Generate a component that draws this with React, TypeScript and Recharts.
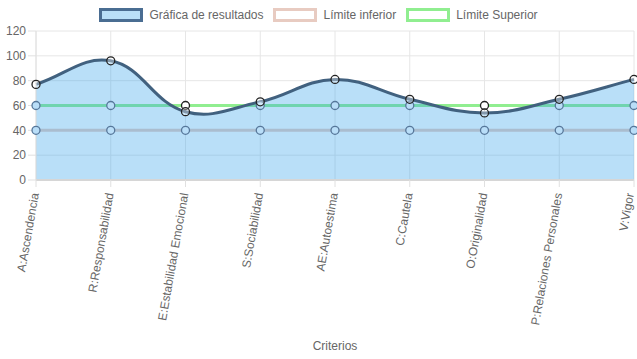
import { ComposedChart, Area, XAxis, YAxis, CartesianGrid } from 'recharts'

const criterios = [
  'A:Ascendencia',
  'R:Responsabilidad',
  'E:Estabilidad Emocional',
  'S:Sociabilidad',
  'AE:Autoestima',
  'C:Cautela',
  'O:Originalidad',
  'P:Relaciones Personales',
  'V:Vigor',
]
const resultados = [77, 96, 55, 63, 81, 65, 54, 65, 81]
const limiteInferior = [40, 40, 40, 40, 40, 40, 40, 40, 40]
const limiteSuperior = [60, 60, 60, 60, 60, 60, 60, 60, 60]
const yTicks = [0, 20, 40, 60, 80, 100, 120]

const legendItems = [
  { name: 'Gráfica de resultados', fill: 'rgba(54,162,235,0.35)', border: '#4a6d92' },
  { name: 'Límite inferior', fill: '#fff', border: '#e8cbc1' },
  { name: 'Límite Superior', fill: '#fff', border: '#90ee90' },
]

const data = criterios.map((c, i) => ({
  criterio: c,
  resultado: resultados[i],
  inferior: limiteInferior[i],
  superior: limiteSuperior[i],
}))

const FONT = "'Liberation Sans', Arial, Helvetica, sans-serif"

// chart.js style spline (tension 0.4)
function chartJsCurve(context: any) {
  let pts: number[][] = []
  let line = NaN
  const t = 0.4
  function draw() {
    const n = pts.length
    if (!n) return
    const cps = pts.map((p, i) => {
      const prev = pts[i - 1] || p
      const next = pts[i + 1] || p
      const d01 = Math.hypot(p[0] - prev[0], p[1] - prev[1])
      const d12 = Math.hypot(next[0] - p[0], next[1] - p[1])
      let s01 = d01 / (d01 + d12)
      let s12 = d12 / (d01 + d12)
      if (isNaN(s01)) s01 = 0
      if (isNaN(s12)) s12 = 0
      const fa = t * s01
      const fb = t * s12
      return {
        prev: [p[0] - fa * (next[0] - prev[0]), p[1] - fa * (next[1] - prev[1])],
        next: [p[0] + fb * (next[0] - prev[0]), p[1] + fb * (next[1] - prev[1])],
      }
    })
    if (line) context.lineTo(pts[0][0], pts[0][1])
    else context.moveTo(pts[0][0], pts[0][1])
    for (let i = 1; i < n; i++) {
      const a = cps[i - 1].next
      const b = cps[i].prev
      context.bezierCurveTo(a[0], a[1], b[0], b[1], pts[i][0], pts[i][1])
    }
  }
  return {
    areaStart() { line = 0 },
    areaEnd() { line = NaN },
    lineStart() { pts = [] },
    lineEnd() {
      draw()
      if (line || (line !== 0 && pts.length === 1)) context.closePath()
      line = 1 - line
    },
    point(x: number, y: number) { pts.push([+x, +y]) },
  }
}

function RotatedTick({ x, y, payload, index }: any) {
  const dx = index === criterios.length - 1 ? -4 : -1
  return (
    <g transform={`translate(${x + dx},${y + 4})`}>
      <text
        transform="rotate(-80)"
        textAnchor="end"
        dominantBaseline="central"
        fontSize={12}
        fill="#666"
        fontFamily={FONT}
      >
        {payload.value}
      </text>
    </g>
  )
}

// limit points sit under the translucent result fill when below the result value
function LimitDot({ cx, cy, value, payload }: any) {
  const v = Array.isArray(value) ? value[1] : value
  const under = payload.resultado > v + 1
  return (
    <circle
      cx={cx}
      cy={cy}
      r={4}
      fill={under ? '#b9def8' : '#fff'}
      stroke={under ? '#56779a' : '#222'}
      strokeWidth={1.3}
    />
  )
}

const dot = { r: 4, fill: '#fff', stroke: '#222', strokeWidth: 1.3 }

export default function App() {
  return (
    <div style={{ position: 'absolute', left: 0, top: 0, width: 637, height: 359, background: '#fff', fontFamily: FONT }}>
      <div style={{ position: 'absolute', top: 8, left: 0, width: 637, display: 'flex', justifyContent: 'center', fontSize: 12, color: '#666' }}>
        {legendItems.map((l) => (
          <div key={l.name} style={{ display: 'flex', alignItems: 'center', margin: '0 5px' }}>
            <span style={{ display: 'inline-block', width: 38, height: 8, background: l.fill, border: `3px solid ${l.border}`, marginRight: 6 }} />
            <span>{l.name}</span>
          </div>
        ))}
      </div>
      <ComposedChart width={637} height={359} data={data} margin={{ top: 31, right: 3, bottom: 0, left: 0 }}>
        <CartesianGrid stroke="#e6e6e6" />
        <XAxis
          dataKey="criterio"
          height={179}
          interval={0}
          tick={<RotatedTick />}
          tickLine={{ stroke: '#e0e0e0' }}
          tickSize={7}
          axisLine={{ stroke: '#d6d6d6', strokeWidth: 2 }}
          label={{ value: 'Criterios', position: 'insideBottom', offset: 9, fill: '#666', fontSize: 12, fontFamily: FONT }}
        />
        <YAxis
          width={36}
          domain={[0, 120]}
          ticks={yTicks}
          interval={0}
          tick={{ fontSize: 12, fill: '#666', fontFamily: FONT }}
          tickLine={{ stroke: '#e0e0e0' }}
          tickSize={8}
          axisLine={{ stroke: '#e0e0e0' }}
        />
        <Area
          dataKey="superior"
          name="Límite Superior"
          type="linear"
          stroke="#90ee90"
          strokeWidth={3}
          fill="none"
          fillOpacity={0}
          dot={<LimitDot />}
          isAnimationActive={false}
        />
        <Area
          dataKey="inferior"
          name="Límite inferior"
          type="linear"
          stroke="#e8cbc1"
          strokeWidth={3}
          fill="none"
          fillOpacity={0}
          dot={<LimitDot />}
          isAnimationActive={false}
        />
        <Area
          dataKey="resultado"
          name="Gráfica de resultados"
          type={chartJsCurve as any}
          stroke="#41617f"
          strokeWidth={3}
          fill="#36a2eb"
          fillOpacity={0.35}
          dot={dot}
          isAnimationActive={false}
        />
      </ComposedChart>
    </div>
  )
}
